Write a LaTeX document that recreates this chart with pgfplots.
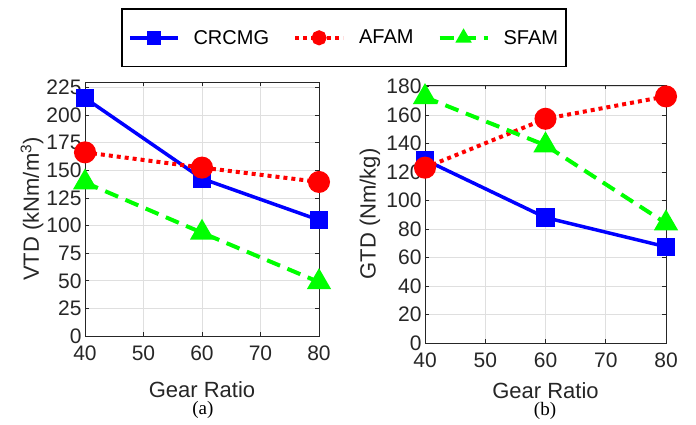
\documentclass[border=0pt]{standalone}
\usepackage{pgfplots}
\pgfplotsset{compat=1.18}
\usepackage{fontspec}
\setmainfont{Liberation Sans}
\newfontfamily\seriffont{Liberation Serif}
\definecolor{axgray}{RGB}{38,38,38}
\definecolor{gridgray}{RGB}{223,223,223}
\definecolor{mgreen}{RGB}{0,255,0}
\pgfplotsset{
  myaxis/.style={
    scale only axis,
    anchor=south west,
    xmin=40, xmax=80,
    xtick={40,50,60,70,80},
    grid=major,
    major grid style={gridgray, line width=0.8pt},
    axis line style={axgray, line width=1pt},
    tick style={axgray, line width=0.8pt},
    tick align=inside,
    major tick length=4pt,
    /pgf/number format/assume math mode=true,
    ticklabel style={font=\fontsize{21}{21}\selectfont, text=axgray},
    xticklabel style={yshift=-6pt},
    label style={font=\fontsize{22}{22}\selectfont, text=axgray},
    clip=false,
  },
  blueline/.style={blue, line width=3.5pt, mark=square*, mark size=7.5pt, mark options={solid, fill=blue}},
  redline/.style={red, line width=4pt, dash pattern=on 4pt off 4pt, mark=*, mark size=9pt, mark options={solid, fill=red}},
  greenline/.style={mgreen, line width=4pt, dash pattern=on 14pt off 8pt, mark=triangle*, mark size=10pt, mark options={solid, fill=mgreen}},
}
\begin{document}
\begin{tikzpicture}
\path[use as bounding box] (0pt,0pt) rectangle (696pt,424pt);
\begin{axis}[myaxis,
  at={(85pt,88pt)}, width=234pt, height=254pt,
  ymin=0, ymax=230,
  ytick={0,25,50,75,100,125,150,175,200,225},
  xlabel={Gear Ratio},
  ylabel={VTD (kNm/m\textsuperscript{3})},
  xlabel style={at={(axis description cs:0.5,-0.213)}, anchor=center},
  ylabel style={at={(axis description cs:-0.226,0.5)}, anchor=center},
  legend columns=3,
  legend style={at={(axis description cs:1.107,1.29)}, anchor=north,
    draw=black, line width=1.5pt, font=\fontsize{20}{20}\selectfont,
    inner xsep=6pt, inner ysep=19pt,
    /tikz/every even column/.append style={column sep=22pt},
    /tikz/every odd column/.append style={column sep=12pt}},
  legend image code/.code={\draw[mark repeat=2, mark phase=2, mark size=5.5pt] plot coordinates {(0pt,0pt) (24pt,0pt) (48pt,0pt)};},
]
\addplot[blueline] coordinates {(40,215.5) (60,142.5) (80,105)};
\addlegendentry{CRCMG}
\addplot[redline] coordinates {(40,166.3) (60,152.5) (80,139.5)};
\addlegendentry{AFAM}
\addplot[greenline] coordinates {(40,139) (60,93.5) (80,48.8)};
\addlegendentry{SFAM}
\node[font=\seriffont\fontsize{19}{19}\selectfont, text=black] at (axis description cs:0.504,-0.291) {(a)};
\end{axis}
\begin{axis}[myaxis,
  at={(425pt,81pt)}, width=241pt, height=258pt,
  ymin=0, ymax=181,
  ytick={0,20,40,60,80,100,120,140,160,180},
  xlabel={Gear Ratio},
  ylabel={GTD (Nm/kg)},
  xlabel style={at={(axis description cs:0.5,-0.185)}, anchor=center},
  ylabel style={at={(axis description cs:-0.228,0.5)}, anchor=center},
]
\addplot[blueline] coordinates {(40,128.5) (60,88) (80,67.5)};
\addplot[redline] coordinates {(40,123) (60,157.3) (80,173)};
\addplot[greenline] coordinates {(40,172.5) (60,138.7) (80,84)};
\node[font=\seriffont\fontsize{19}{19}\selectfont, text=black] at (axis description cs:0.498,-0.262) {(b)};
\end{axis}
\end{tikzpicture}
\end{document}
